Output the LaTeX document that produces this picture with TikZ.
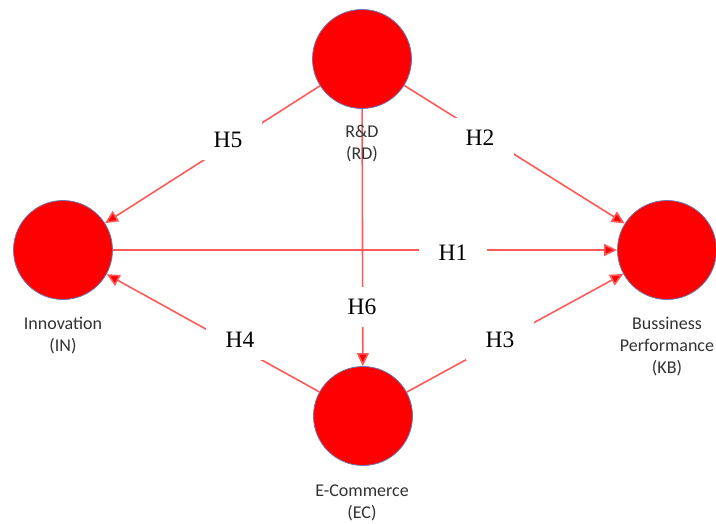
\documentclass[tikz,border=0pt]{standalone}
\usepackage{fontspec}
\setmainfont{Liberation Serif}
\newfontfamily\lblfont{Carlito}
\usetikzlibrary{arrows.meta}
\definecolor{circfill}{RGB}{255,0,0}
\definecolor{circedge}{RGB}{110,120,175}
\definecolor{linkred}{RGB}{255,90,90}
\definecolor{lbltext}{RGB}{50,50,50}
\tikzset{
  construct/.style={circle, fill=circfill, draw=circedge, line width=0.8pt, minimum size=99pt, inner sep=0pt},
  conlabel/.style={font=\lblfont\fontsize{18}{22}\selectfont, text=lbltext, align=center, inner sep=0pt},
  link/.style={draw=linkred, line width=1.6pt, -{Triangle[length=13pt,width=12pt,fill=red]}},
  hyp/.style={font=\fontsize{23.5}{25}\selectfont, fill=white, inner xsep=20pt, inner ysep=12pt}
}
\begin{document}
\begin{tikzpicture}[x=1pt,y=-1pt]
\useasboundingbox (0,0) rectangle (716,523);
\node[construct] (RD) at (362,59) {};
\node[construct] (IN) at (63,250) {};
\node[construct] (KB) at (667,250) {};
\node[construct] (EC) at (363,416) {};
\draw[link] (RD) -- (IN);
\draw[link] (RD) -- (KB);
\draw[link] (IN) -- (KB);
\draw[link] (EC) -- (IN);
\draw[link] (EC) -- (KB);
\draw[link] (RD) -- (EC);
\node[conlabel] (RDl) at (362,144) {R\&D\\(RD)};
\node[conlabel] (INl) at (63,336) {Innovation\\(IN)};
\node[conlabel] (KBl) at (667,347) {Bussiness\\Performance\\(KB)};
\node[conlabel] (ECl) at (362,503) {E-Commerce\\(EC)};
\node[hyp] (H1) at (453,253) {H1};
\node[hyp] (H2) at (480,138) {H2};
\node[hyp] (H3) at (500,340) {H3};
\node[hyp] (H4) at (240,340) {H4};
\node[hyp] (H5) at (228,140) {H5};
\node[hyp, inner xsep=12pt] (H6) at (362,307) {H6};
\end{tikzpicture}
\end{document}
